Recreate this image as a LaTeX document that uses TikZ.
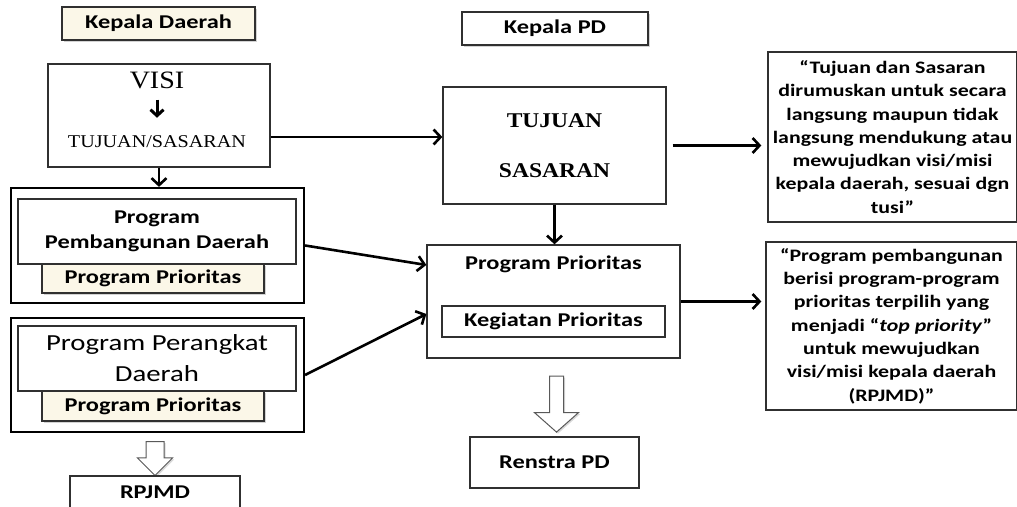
\documentclass[tikz,border=0pt]{standalone}
\usepackage{fontspec}
\setmainfont{Carlito}[FakeStretch=1.25]
\newfontfamily\serifx{Liberation Serif}[FakeStretch=1.12]
\usetikzlibrary{arrows.meta, shadows, shapes.arrows}
\definecolor{cream}{HTML}{FBF7E8}
\definecolor{boxline}{HTML}{303030}

\begin{document}
\begin{tikzpicture}[x=1pt, y=1pt,
  box/.style={draw=boxline, line width=1.3pt, fill=white, inner sep=0pt, align=center},
  group/.style={draw=black, line width=2.2pt, inner sep=0pt},
  tag/.style={box, fill=cream, drop shadow={shadow xshift=2pt, shadow yshift=-2pt, opacity=0.35}},
  head/.style={font=\fontsize{19.5}{25}\selectfont\bfseries},
  note/.style={box, font=\fontsize{17.5}{23.3}\selectfont\bfseries},
  arrow/.style={-{Straight Barb[length=7pt, width=15pt]}, line width=2.6pt},
  hollow/.style={single arrow, draw=gray!70!black, line width=1pt, fill=white,
                 shape border rotate=270, drop shadow={shadow xshift=1.5pt, shadow yshift=-1.5pt, opacity=0.3}}
]
  \useasboundingbox (0,0) rectangle (1017,506);
  \clip (0,0) rectangle (1017,506);

  % kolom kiri
  \node[tag, head, minimum width=193, minimum height=33] (kd) at (158.5,482.5) {Kepala Daerah};
  \node[box, minimum width=222, minimum height=103] (visibox) at (159,390.5) {};
  \node[inner sep=0pt, font=\serifx\fontsize{25}{30}\selectfont] (visi) at (157,426) {VISI};
  \node[inner sep=0pt, font=\serifx\fontsize{18}{22}\selectfont] (tsl) at (157,364) {TUJUAN/SASARAN};
  \draw[-{Straight Barb[length=6pt, width=13pt]}, line width=3pt] ([yshift=-11pt]visi.south) -- ([yshift=18pt]tsl.north);

  \node[group, minimum width=293, minimum height=115] (outer1) at (157.5,260.5) {};
  \node[tag, head, minimum width=222, minimum height=29] (pp1) at (153,227.5) {Program Prioritas};
  \node[box, head, minimum width=278, minimum height=65] (ppd) at (157,274.5) {Program\\Pembangunan Daerah};

  \node[group, minimum width=293, minimum height=114] (outer2) at (157.5,131) {};
  \node[tag, head, minimum width=222, minimum height=30] (pp2) at (153,100) {Program Prioritas};
  \node[box, font=\fontsize{23}{31}\selectfont, minimum width=278, minimum height=65] (ppk) at (157,147.5) {Program Perangkat\\Daerah};

  \node[hollow, inner sep=8.5pt, minimum height=34, single arrow head extend=8.5] (down1) at (155,52) {};
  \node[box, head, minimum width=170, minimum height=32] (rpjmd) at (155,14) {RPJMD};

  % kolom tengah
  \node[box, head, minimum width=186, minimum height=33,
        drop shadow={shadow xshift=2pt, shadow yshift=-2pt, opacity=0.35}] (kpd) at (555,477.5) {Kepala PD};
  \node[box, font=\serifx\fontsize{21}{50}\selectfont\bfseries, minimum width=223, minimum height=117] (tujuan) at (554.5,360.5) {TUJUAN\\SASARAN};
  \node[box, minimum width=253, minimum height=113] (prog) at (553.5,204.5) {};
  \node[head, inner sep=0pt] (progtitle) at (553.5,242) {Program Prioritas};
  \node[box, head, minimum width=223, minimum height=31] (kp) at (553.5,184.5) {Kegiatan Prioritas};

  \node[hollow, inner sep=6.5pt, minimum height=56, single arrow head extend=15, single arrow tip angle=97] (down2) at (556.5,105) {};
  \node[box, head, minimum width=169, minimum height=51] (renstra) at (554.5,43.5) {Renstra PD};

  % kolom kanan
  \node[note, minimum width=249, minimum height=170] (rb1) at (892.5,369)
    {“Tujuan dan Sasaran\\dirumuskan untuk secara\\langsung maupun tidak\\langsung mendukung atau\\mewujudkan visi/misi\\kepala daerah, sesuai dgn\\tusi”};
  \node[note, minimum width=251, minimum height=168] (rb2) at (891.5,180)
    {“Program pembangunan\\berisi program-program\\prioritas terpilih yang\\menjadi “\textit{top priority}”\\untuk mewujudkan\\visi/misi kepala daerah\\(RPJMD)”};

  % panah
  \draw[arrow] ([yshift=-21.5pt]visibox.east) -- ([yshift=8.5pt]tujuan.west);
  \draw[arrow] (visibox.south) -- (visibox.south |- outer1.north);
  \draw[arrow] (outer1.east) -- ([yshift=36.5pt]prog.west);
  \draw[arrow] (outer2.east) -- ([yshift=-12.5pt]prog.west);
  \draw[arrow] (tujuan.south) -- (tujuan.south |- prog.north);
  \draw[arrow] ([xshift=6pt]tujuan.east) -- ([xshift=-6pt]tujuan.east -| rb1.west);
  \draw[arrow] (prog.east) -- ([xshift=-4pt]prog.east -| rb2.west);
\end{tikzpicture}
\end{document}
